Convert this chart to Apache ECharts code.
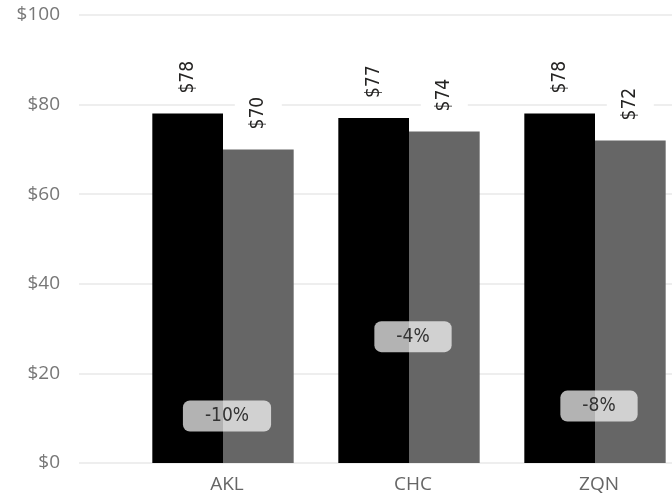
<!DOCTYPE html>
<html>
<head>
<meta charset="utf-8">
<script src="https://cdn.jsdelivr.net/npm/echarts@6/dist/echarts.min.js"></script>
<style>
  html, body { margin: 0; padding: 0; background: #ffffff; }
  #chart { width: 672px; height: 496px; }
</style>
</head>
<body>
<div id="chart"></div>
<script>
// Airports and average fares for the two periods
const airports = ['AKL', 'CHC', 'ZQN'];
const priorFares = [78, 77, 78];
const currentFares = [70, 74, 72];
// Height (in $) at which each change badge sits
const badgeLevels = [10.5, 28.2, 12.7];
const yTicks = [0, 20, 40, 60, 80, 100];

const valueFont = 'DejaVu Sans Condensed';
const axisFont = 'Open Sans';

const pctChange = priorFares.map((p, i) => Math.round((currentFares[i] - p) / p * 100));

const valueLabel = {
  show: true,
  position: 'top',
  rotate: 90,
  align: 'left',
  verticalAlign: 'middle',
  distance: 18,
  formatter: p => '$' + p.value,
  fontFamily: valueFont,
  fontSize: 19,
  color: '#252423',
  backgroundColor: '#ffffff',
  padding: [14, 2, 14, 2]
};

const chart = echarts.init(document.getElementById('chart'));
chart.setOption({
  animation: false,
  grid: [
    { left: 79, right: 0, top: 15, bottom: 33, outerBoundsMode: 'none' },
    { left: 130, width: 558, top: 15, bottom: 33, outerBoundsMode: 'none' }
  ],
  xAxis: [
    { gridIndex: 0, type: 'category', data: airports, show: false },
    {
      gridIndex: 1, type: 'category', data: airports,
      axisLine: { show: false }, axisTick: { show: false },
      axisLabel: {
        color: '#666666', fontFamily: axisFont, fontSize: 19, margin: 12,
        padding: [0, 0, 0, 8]
      }
    }
  ],
  yAxis: [
    {
      gridIndex: 0, type: 'value', min: 0, max: 100, interval: 20,
      axisLine: { show: false }, axisTick: { show: false },
      axisLabel: {
        color: '#777777', fontFamily: axisFont, fontSize: 19, margin: 19,
        formatter: v => yTicks.includes(v) ? '$' + v : ''
      },
      splitLine: { lineStyle: { color: '#e8e8e8', width: 1.5 } }
    },
    { gridIndex: 1, type: 'value', min: 0, max: 100, interval: 20, show: false }
  ],
  series: [
    {
      name: 'Prior', type: 'bar', xAxisIndex: 1, yAxisIndex: 1,
      data: priorFares, barGap: '0%', barCategoryGap: '24%',
      itemStyle: { color: '#000000' },
      label: valueLabel, z: 2
    },
    {
      name: 'Current', type: 'bar', xAxisIndex: 1, yAxisIndex: 1,
      data: currentFares, barGap: '0%', barCategoryGap: '24%',
      itemStyle: { color: '#666666' },
      label: valueLabel, z: 2
    },
    {
      name: 'Change', type: 'scatter', xAxisIndex: 1, yAxisIndex: 1,
      data: badgeLevels.map((v, i) => ({ value: [airports[i], v], pct: pctChange[i] })),
      symbolSize: 0, z: 5,
      itemStyle: { opacity: 1 },
      label: {
        show: true, position: 'inside', offset: [4, 0],
        formatter: p => p.data.pct + '%',
        fontFamily: valueFont, fontSize: 19, color: '#333333',
        backgroundColor: 'rgba(255,255,255,0.7)',
        borderRadius: 7,
        padding: [6, 22, 6, 22]
      }
    }
  ]
});
</script>
</body>
</html>
